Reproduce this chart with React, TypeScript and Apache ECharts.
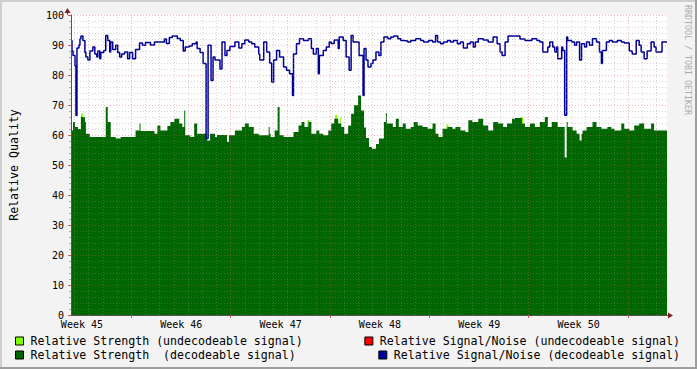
import React, { useEffect, useRef } from "react";
import * as echarts from "echarts";

// one RRD sample (one pixel column of the original graph) in hours
const STEP_HOURS = 1.68;
const SAMPLE_COUNT = 600;

const weekLabels = ["Week 45", "Week 46", "Week 47", "Week 48", "Week 49", "Week 50"];
const weekLabelHours = [18.5, 186.5, 354.5, 522.5, 690.5, 858.5];
const weekStartHours = [102, 270, 438, 606, 774, 942];
const firstDayHour = 6;

// Relative Signal/Noise (decodeable) : [sample start, value]
const snrSteps: [number, number][] = [
  [0, 91.5], [1, 88], [2, 86.5], [4, 83], [5, 66.5], [6, 89], [8, 90], [9, 92], [10, 93], [12, 91.5],
  [14, 87.5], [15, 86], [17, 85], [19, 88], [22, 89.3], [24, 87], [26, 86], [27, 88], [29, 85.4], [30, 87.5],
  [33, 88.2], [35, 93.2], [37, 91.5], [39, 87.7], [40, 91], [42, 88.5], [45, 89.9], [47, 87.5], [49, 86], [51, 87],
  [54, 87.7], [57, 85.4], [59, 87.5], [62, 85.4], [65, 88.5], [69, 90.7], [72, 89.9], [75, 90.8], [80, 90], [84, 91],
  [94, 92], [96, 90.5], [99, 92.5], [102, 93], [107, 92.2], [110, 91.5], [113, 88], [115, 89.3], [119, 89.7], [122, 90.4],
  [126, 91], [127, 88.8], [130, 87.5], [133, 83.8], [136, 58.8], [138, 89.9], [141, 78.2], [143, 86], [145, 85], [150, 82],
  [152, 91], [155, 86.5], [157, 88.2], [160, 89.5], [165, 91], [169, 89], [172, 90.4], [175, 91.7], [179, 91], [182, 90.4],
  [185, 89.3], [189, 87], [190, 85], [194, 91], [197, 87.7], [200, 84], [202, 77.7], [204, 85], [207, 88.2], [210, 86],
  [214, 82.7], [217, 81.6], [220, 80.4], [223, 73.2], [224, 87], [227, 90.4], [230, 92.1], [234, 91.5], [239, 92.1], [242, 88.8],
  [244, 87], [247, 88.8], [249, 80.4], [250, 86.5], [254, 88.2], [257, 89.3], [260, 91], [262, 90.5], [265, 91.7], [269, 88.8],
  [270, 92.7], [274, 91.5], [277, 86], [280, 81.6], [282, 93.2], [284, 91], [290, 86.5], [294, 73.2], [295, 88.8], [297, 85],
  [299, 82.7], [302, 83.8], [304, 85], [307, 87.7], [310, 86.5], [312, 91], [315, 92.7], [319, 92.1], [322, 92.7], [325, 93],
  [329, 92.1], [332, 91.5], [335, 91.3], [339, 91], [342, 91.5], [347, 92.1], [352, 91.5], [355, 91], [360, 91.5], [364, 91],
  [367, 93.2], [369, 91], [372, 90.4], [375, 91], [379, 91.5], [382, 91], [385, 91.5], [389, 90.4], [392, 91], [395, 89],
  [399, 90.4], [402, 91], [405, 89.3], [407, 91], [410, 92.1], [415, 91.7], [420, 91], [425, 92.7], [429, 90.4], [432, 87.7],
  [434, 86.5], [437, 91], [440, 93], [452, 92], [457, 91.5], [464, 92.1], [469, 91.5], [472, 91], [475, 87.7], [480, 89.3],
  [482, 91], [485, 89.3], [487, 87.7], [489, 89.3], [490, 85.4], [494, 89.3], [495, 88.2], [497, 66.6], [499, 92.7], [500, 91.5],
  [504, 91], [507, 89.9], [509, 91], [512, 85], [514, 90.4], [517, 89.3], [519, 91], [522, 89.9], [525, 92.1], [529, 91],
  [532, 87.7], [534, 83.8], [535, 88.2], [539, 91], [542, 91.5], [545, 91], [550, 91.5], [554, 91], [557, 90.7], [562, 88],
  [565, 87], [569, 91.5], [572, 89.9], [574, 87.7], [577, 85.4], [580, 88], [584, 91], [587, 89.3], [589, 87.7], [595, 91],
];

// Relative Strength (decodeable) : [sample start, value]
const strengthSteps: [number, number][] = [
  [0, 61.5], [2, 64.3], [4, 62.7], [7, 62], [10, 66], [14, 64.3], [15, 60.4], [19, 59.3], [35, 69.3], [37, 64.3],
  [40, 59.3], [45, 58.8], [50, 59.3], [65, 61.5], [69, 63.8], [70, 61.3], [84, 60.4], [87, 63.2], [90, 61.5], [97, 63],
  [100, 64.3], [104, 65.4], [109, 63.8], [112, 62.7], [114, 68.2], [115, 59.9], [120, 59.3], [124, 63.8], [127, 60.4], [137, 58.2],
  [140, 60.4], [145, 59.3], [147, 60], [157, 57.7], [159, 59.9], [165, 61.5], [172, 62.7], [175, 63.8], [179, 62.7], [184, 60.4],
  [189, 59.9], [199, 62.7], [200, 60.4], [201, 59.3], [205, 61.5], [208, 69.3], [210, 59.9], [214, 59.3], [224, 61], [229, 63.2],
  [232, 64.3], [235, 62.7], [239, 64.3], [242, 60.4], [247, 61.5], [250, 60.4], [254, 59.9], [259, 61.5], [262, 63.8], [265, 65.4],
  [269, 63.8], [272, 62.7], [275, 60.4], [279, 63.2], [282, 67.1], [285, 69.9], [289, 73.2], [292, 68.2], [295, 62.5], [297, 59],
  [300, 56], [303, 55.4], [307, 57], [310, 58.8], [315, 64.3], [317, 67.3], [318, 63.8], [324, 62.7], [327, 65.4], [330, 62.7],
  [334, 63.8], [337, 62.1], [342, 62.7], [345, 64.3], [349, 63.2], [354, 62.7], [359, 62.1], [364, 63.8], [367, 60.4], [370, 59.3],
  [374, 62.1], [379, 62.7], [384, 62.1], [387, 62.7], [392, 61.5], [397, 61], [400, 64.9], [404, 64.3], [410, 65.4], [415, 63.2],
  [420, 61.5], [425, 64.3], [430, 63.8], [435, 62.7], [439, 63.8], [444, 65.4], [447, 65.7], [454, 63.8], [457, 62.7], [462, 63.8],
  [467, 62.7], [472, 64.3], [477, 66], [480, 62.7], [484, 64.3], [490, 62.7], [497, 52.5], [499, 64.3], [500, 62.7], [505, 61.5],
  [509, 60.4], [512, 58.2], [514, 60.4], [515, 61.5], [519, 62.7], [525, 64.3], [529, 62.7], [534, 62.1], [540, 62.7], [544, 62.1],
  [547, 61.5], [554, 63.8], [557, 62.1], [562, 61.5], [567, 63.2], [572, 63.8], [577, 62.1], [584, 63.8], [587, 61.5],
];

// Relative Strength (undecodeable) : [sample start, sample end, value]
const undecodeableStrength: [number, number, number][] = [
  [10, 12, 67.2], [238, 240, 65], [266, 268, 66.7], [271, 272, 65.8], [378, 380, 63.5], [453, 455, 66],
];

const NAME_LG = "Relative Strength (undecodeable signal)";
const NAME_DG = "Relative Strength  (decodeable signal)";
const NAME_RED = "Relative Signal/Noise (undecodeable signal)";
const NAME_BLUE = "Relative Signal/Noise (decodeable signal)";

const MONO = '"DejaVu Sans Mono", monospace';
const MINOR_GRID = "rgba(143,143,143,0.38)";
const MAJOR_GRID = "rgba(222,79,79,0.42)";

function stepsToData(steps: [number, number][]) {
  const d: [number, number][] = steps.map(([s, v]) => [s * STEP_HOURS, v]);
  d.push([SAMPLE_COUNT * STEP_HOURS, steps[steps.length - 1][1]]);
  return d;
}

export default function App() {
  const ref = useRef<HTMLDivElement>(null);
  useEffect(() => {
    if (!ref.current) return;
    const chart = echarts.init(ref.current, undefined, { renderer: "svg" });
    const maxHour = SAMPLE_COUNT * STEP_HOURS;
    const lgData: any[] = [];
    undecodeableStrength.forEach(([a, b, v]) => {
      lgData.push([a * STEP_HOURS, v], [b * STEP_HOURS, v], null);
    });
    const dayLines: any[] = [];
    for (let h = firstDayHour; h < maxHour; h += 24) {
      const major = weekStartHours.indexOf(h) >= 0;
      dayLines.push({
        xAxis: h,
        lineStyle: { color: major ? MAJOR_GRID : MINOR_GRID, type: [1, 2], width: 1 },
      });
    }
    const legendCommon = {
      orient: "vertical" as const,
      icon: "rect",
      itemWidth: 8,
      itemHeight: 8,
      itemGap: 0,
      padding: 0,
      selectedMode: false,
      textStyle: { fontFamily: MONO, fontSize: 11.6, color: "#000", lineHeight: 14, padding: [0, 0, 0, 2] },
      itemStyle: { borderColor: "#000", borderWidth: 1 },
    };
    chart.setOption({
      animation: false,
      backgroundColor: "#F3F3F3",
      grid: { left: 67, top: 15, width: 600, height: 300, show: true, backgroundColor: "#FFFFFF", borderWidth: 0 },
      xAxis: {
        type: "value",
        min: 0,
        max: maxHour,
        z: 5,
        axisLine: { lineStyle: { color: "#555", width: 1 } },
        axisTick: { show: true, customValues: weekStartHours, length: 3, lineStyle: { color: "rgba(200,60,60,0.8)" } },
        axisLabel: {
          customValues: weekLabelHours,
          formatter: (v: number) => weekLabels[Math.round((v - weekLabelHours[0]) / 168)] ?? "",
          fontFamily: MONO,
          fontSize: 10,
          color: "#000",
          margin: 4,
        },
        splitLine: { show: false },
      },
      yAxis: {
        type: "value",
        min: 0,
        max: 100,
        interval: 10,
        z: 5,
        name: "Relative Quality",
        nameLocation: "middle",
        nameGap: 51,
        nameTextStyle: { fontFamily: MONO, fontSize: 11.6, color: "#000" },
        axisLine: { show: true, lineStyle: { color: "#555", width: 1 } },
        axisTick: { show: true, length: 3, lineStyle: { color: "rgba(200,60,60,0.8)" } },
        minorTick: { show: true, splitNumber: 5, length: 2, lineStyle: { color: "rgba(143,143,143,0.7)" } },
        axisLabel: { fontFamily: MONO, fontSize: 10, color: "#000", margin: 7 },
        splitLine: { show: true, lineStyle: { color: MAJOR_GRID, type: [1, 2], width: 1 } },
        minorSplitLine: { show: true, lineStyle: { color: MINOR_GRID, type: [1, 2], width: 1 } },
      },
      legend: [
        { ...legendCommon, left: 15, top: 334, data: [
          { name: NAME_LG, itemStyle: { color: "#80FF00" } },
          { name: NAME_DG, itemStyle: { color: "#006600" } },
        ] },
        { ...legendCommon, right: 17, top: 334, data: [{ name: NAME_RED, itemStyle: { color: "#FF0000" } }] },
        { ...legendCommon, right: 17, top: 348, data: [{ name: NAME_BLUE, itemStyle: { color: "#000099" } }] },
      ],
      series: [
        {
          name: NAME_LG, type: "line", step: "end", showSymbol: false, z: 1,
          color: "#80FF00", lineStyle: { width: 0 }, areaStyle: { color: "#80FF00", opacity: 1 },
          data: lgData,
        },
        {
          name: NAME_DG, type: "line", step: "end", showSymbol: false, z: 2,
          color: "#006600", lineStyle: { width: 0 }, areaStyle: { color: "#006600", opacity: 1 },
          data: stepsToData(strengthSteps),
        },
        { name: NAME_RED, type: "line", color: "#FF0000", showSymbol: false, data: [] },
        {
          name: NAME_BLUE, type: "line", step: "end", showSymbol: false, z: 3,
          color: "#000099", lineStyle: { width: 1.5, color: "#000099" },
          data: stepsToData(snrSteps),
          markLine: { silent: true, symbol: "none", label: { show: false }, animation: false, data: dayLines },
        },
      ],
      graphic: [
        { type: "rect", shape: { x: 0, y: 0, width: 697, height: 2 }, style: { fill: "#CFCFCF" }, silent: true },
        { type: "rect", shape: { x: 0, y: 0, width: 2, height: 369 }, style: { fill: "#CFCFCF" }, silent: true },
        { type: "rect", shape: { x: 0, y: 367, width: 697, height: 2 }, style: { fill: "#9E9E9E" }, silent: true },
        { type: "rect", shape: { x: 695, y: 0, width: 2, height: 369 }, style: { fill: "#9E9E9E" }, silent: true },
        { type: "line", shape: { x1: 67.5, y1: 15, x2: 67.5, y2: 11 }, style: { stroke: "#555", lineWidth: 1 }, silent: true },
        { type: "line", shape: { x1: 667, y1: 315.5, x2: 671, y2: 315.5 }, style: { stroke: "#555", lineWidth: 1 }, silent: true },
        { type: "polygon", shape: { points: [[64.5, 13], [70.5, 13], [67.5, 8]] }, style: { fill: "#801F1F" }, silent: true },
        { type: "polygon", shape: { points: [[668, 312.5], [668, 318.5], [673, 315.5]] }, style: { fill: "#801F1F" }, silent: true },
        {
          type: "text", x: 688, y: 60, rotation: -Math.PI / 2, silent: true,
          style: { text: "RRDTOOL / TOBI OETIKER", fontFamily: MONO, fontSize: 8.3, fill: "#ABABAB", align: "center", verticalAlign: "middle" },
        },
      ],
    });
    return () => chart.dispose();
  }, []);
  return <div ref={ref} style={{ position: "absolute", left: 0, top: 0, width: 697, height: 369 }} />;
}
